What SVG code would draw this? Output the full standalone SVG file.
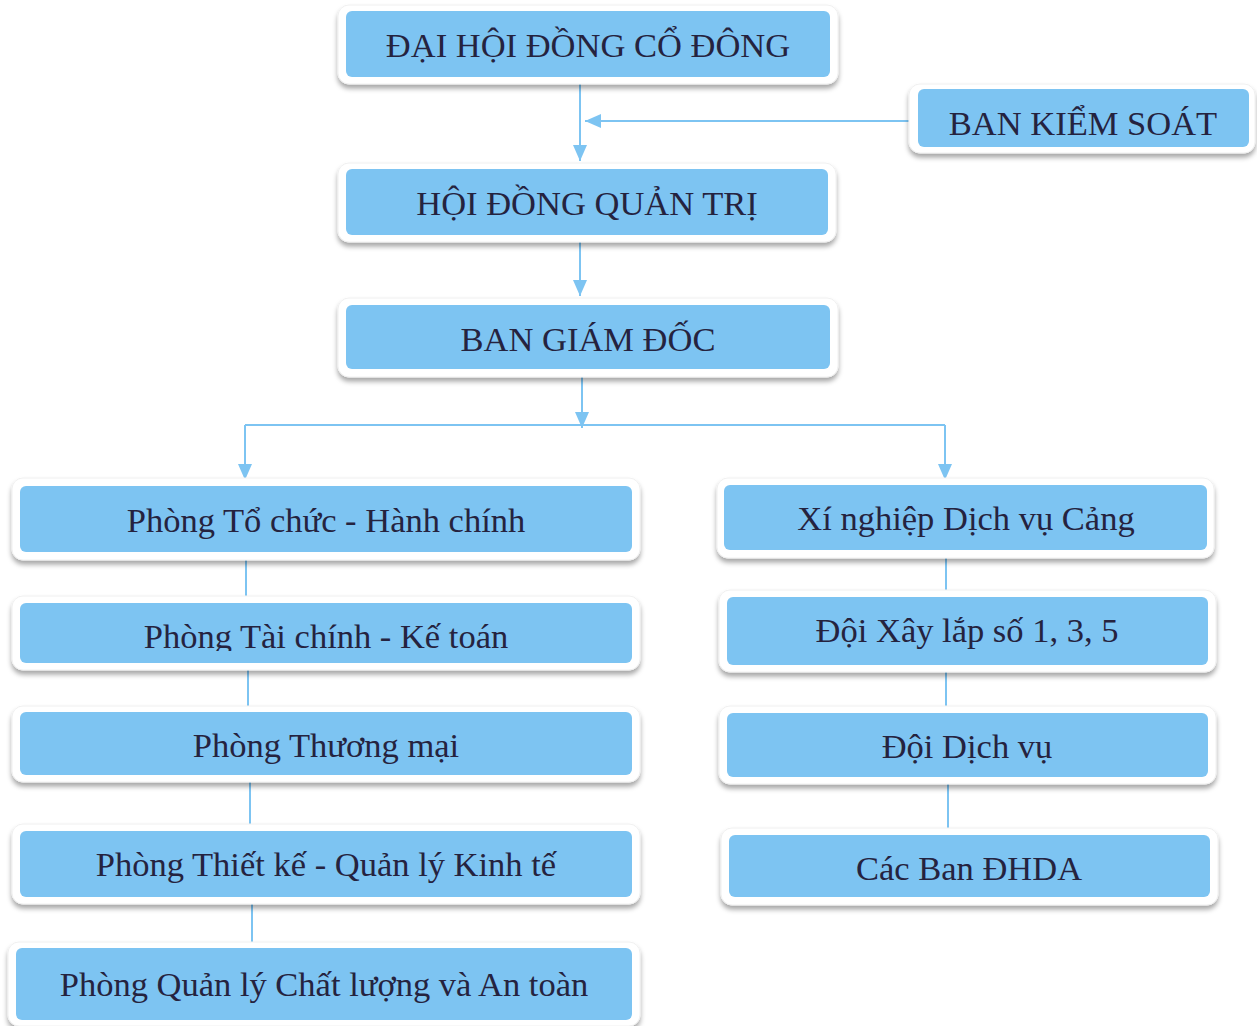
<svg xmlns="http://www.w3.org/2000/svg" width="1257" height="1026" viewBox="0 0 1257 1026">
<style>
.o{fill:#fff;stroke:#f0f0f0;stroke-width:1;filter:url(#sh)}
.b{fill:#7dc4f2}
.t{font-family:"Liberation Serif","Times New Roman",serif;font-size:34.5px;fill:#25233f;text-anchor:middle}
.c{stroke:#7dc4f2;stroke-width:2;fill:none}
.a{stroke:#7dc4f2;stroke-width:2;fill:none;marker-end:url(#ar)}
</style>
<defs>
<filter id="sh" x="-5%" y="-20%" width="110%" height="150%">
<feDropShadow dx="0" dy="4" stdDeviation="2.5" flood-color="#000" flood-opacity="0.35"/>
</filter>
<marker id="ar" viewBox="0 0 16 16" refX="16" refY="8" markerWidth="16" markerHeight="16" markerUnits="userSpaceOnUse" orient="auto">
<path d="M0,1 L16,8 L0,15 Z" fill="#7dc4f2"/>
</marker>
<clipPath id="cp2"><rect x="20" y="603" width="612" height="48"/></clipPath>
</defs>
<g id="connectors">
<path class="a" d="M580,84 V161"/>
<path class="a" d="M909,121 H585"/>
<path class="a" d="M580,242 V296"/>
<path class="a" d="M582,377 V428"/>
<path class="c" d="M245,425 H945"/>
<path class="a" d="M245,425 V480"/>
<path class="a" d="M945,425 V480"/>
<path class="c" d="M246,560 V596"/>
<path class="c" d="M248,670 V706"/>
<path class="c" d="M250,782 V824"/>
<path class="c" d="M252,904 V942"/>
<path class="c" d="M946,558 V590"/>
<path class="c" d="M946,672 V706"/>
<path class="c" d="M948,784 V828"/>
</g>
<g id="dhcd">
<rect class="o" x="338" y="5" width="500" height="79" rx="11"/>
<rect class="b" x="346" y="11" width="484" height="66" rx="6"/>
<text class="t" x="588" y="57">ĐẠI HỘI ĐỒNG CỔ ĐÔNG</text>
</g>
<g id="bks">
<rect class="o" x="909" y="84" width="346" height="69" rx="11"/>
<rect class="b" x="918" y="89" width="331" height="58" rx="6"/>
<text class="t" x="1083" y="135">BAN KIỂM SOÁT</text>
</g>
<g id="hdqt">
<rect class="o" x="338" y="163" width="498" height="79" rx="11"/>
<rect class="b" x="346" y="169" width="482" height="66" rx="6"/>
<text class="t" x="587" y="215">HỘI ĐỒNG QUẢN TRỊ</text>
</g>
<g id="bgd">
<rect class="o" x="338" y="298" width="500" height="79" rx="11"/>
<rect class="b" x="346" y="305" width="484" height="64" rx="6"/>
<text class="t" x="588" y="351">BAN GIÁM ĐỐC</text>
</g>
<g id="p1">
<rect class="o" x="12" y="478" width="628" height="82" rx="11"/>
<rect class="b" x="20" y="486" width="612" height="66" rx="6"/>
<text class="t" x="326" y="532">Phòng Tổ chức - Hành chính</text>
</g>
<g id="p2">
<rect class="o" x="12" y="596" width="628" height="74" rx="11"/>
<rect class="b" x="20" y="603" width="612" height="60" rx="6"/>
<text class="t" x="326" y="648" clip-path="url(#cp2)">Phòng Tài chính - Kế toán</text>
</g>
<g id="p3">
<rect class="o" x="12" y="706" width="628" height="76" rx="11"/>
<rect class="b" x="20" y="712" width="612" height="63" rx="6"/>
<text class="t" x="326" y="757">Phòng Thương mại</text>
</g>
<g id="p4">
<rect class="o" x="12" y="824" width="628" height="80" rx="11"/>
<rect class="b" x="20" y="831" width="612" height="66" rx="6"/>
<text class="t" x="326" y="876">Phòng Thiết kế - Quản lý Kinh tế</text>
</g>
<g id="p5">
<rect class="o" x="8" y="942" width="632" height="84" rx="11"/>
<rect class="b" x="16" y="948" width="616" height="72" rx="6"/>
<text class="t" x="324" y="996">Phòng Quản lý Chất lượng và An toàn</text>
</g>
<g id="r1">
<rect class="o" x="717" y="478" width="497" height="80" rx="11"/>
<rect class="b" x="724" y="485" width="483" height="65" rx="6"/>
<text class="t" x="966" y="530">Xí nghiệp Dịch vụ Cảng</text>
</g>
<g id="r2">
<rect class="o" x="719" y="590" width="497" height="82" rx="11"/>
<rect class="b" x="727" y="597" width="481" height="68" rx="6"/>
<text class="t" x="967" y="642">Đội Xây lắp số 1, 3, 5</text>
</g>
<g id="r3">
<rect class="o" x="719" y="706" width="497" height="78" rx="11"/>
<rect class="b" x="727" y="713" width="481" height="64" rx="6"/>
<text class="t" x="967" y="758">Đội Dịch vụ</text>
</g>
<g id="r4">
<rect class="o" x="721" y="828" width="497" height="77" rx="11"/>
<rect class="b" x="729" y="835" width="481" height="62" rx="6"/>
<text class="t" x="969" y="880">Các Ban ĐHDA</text>
</g>
</svg>
